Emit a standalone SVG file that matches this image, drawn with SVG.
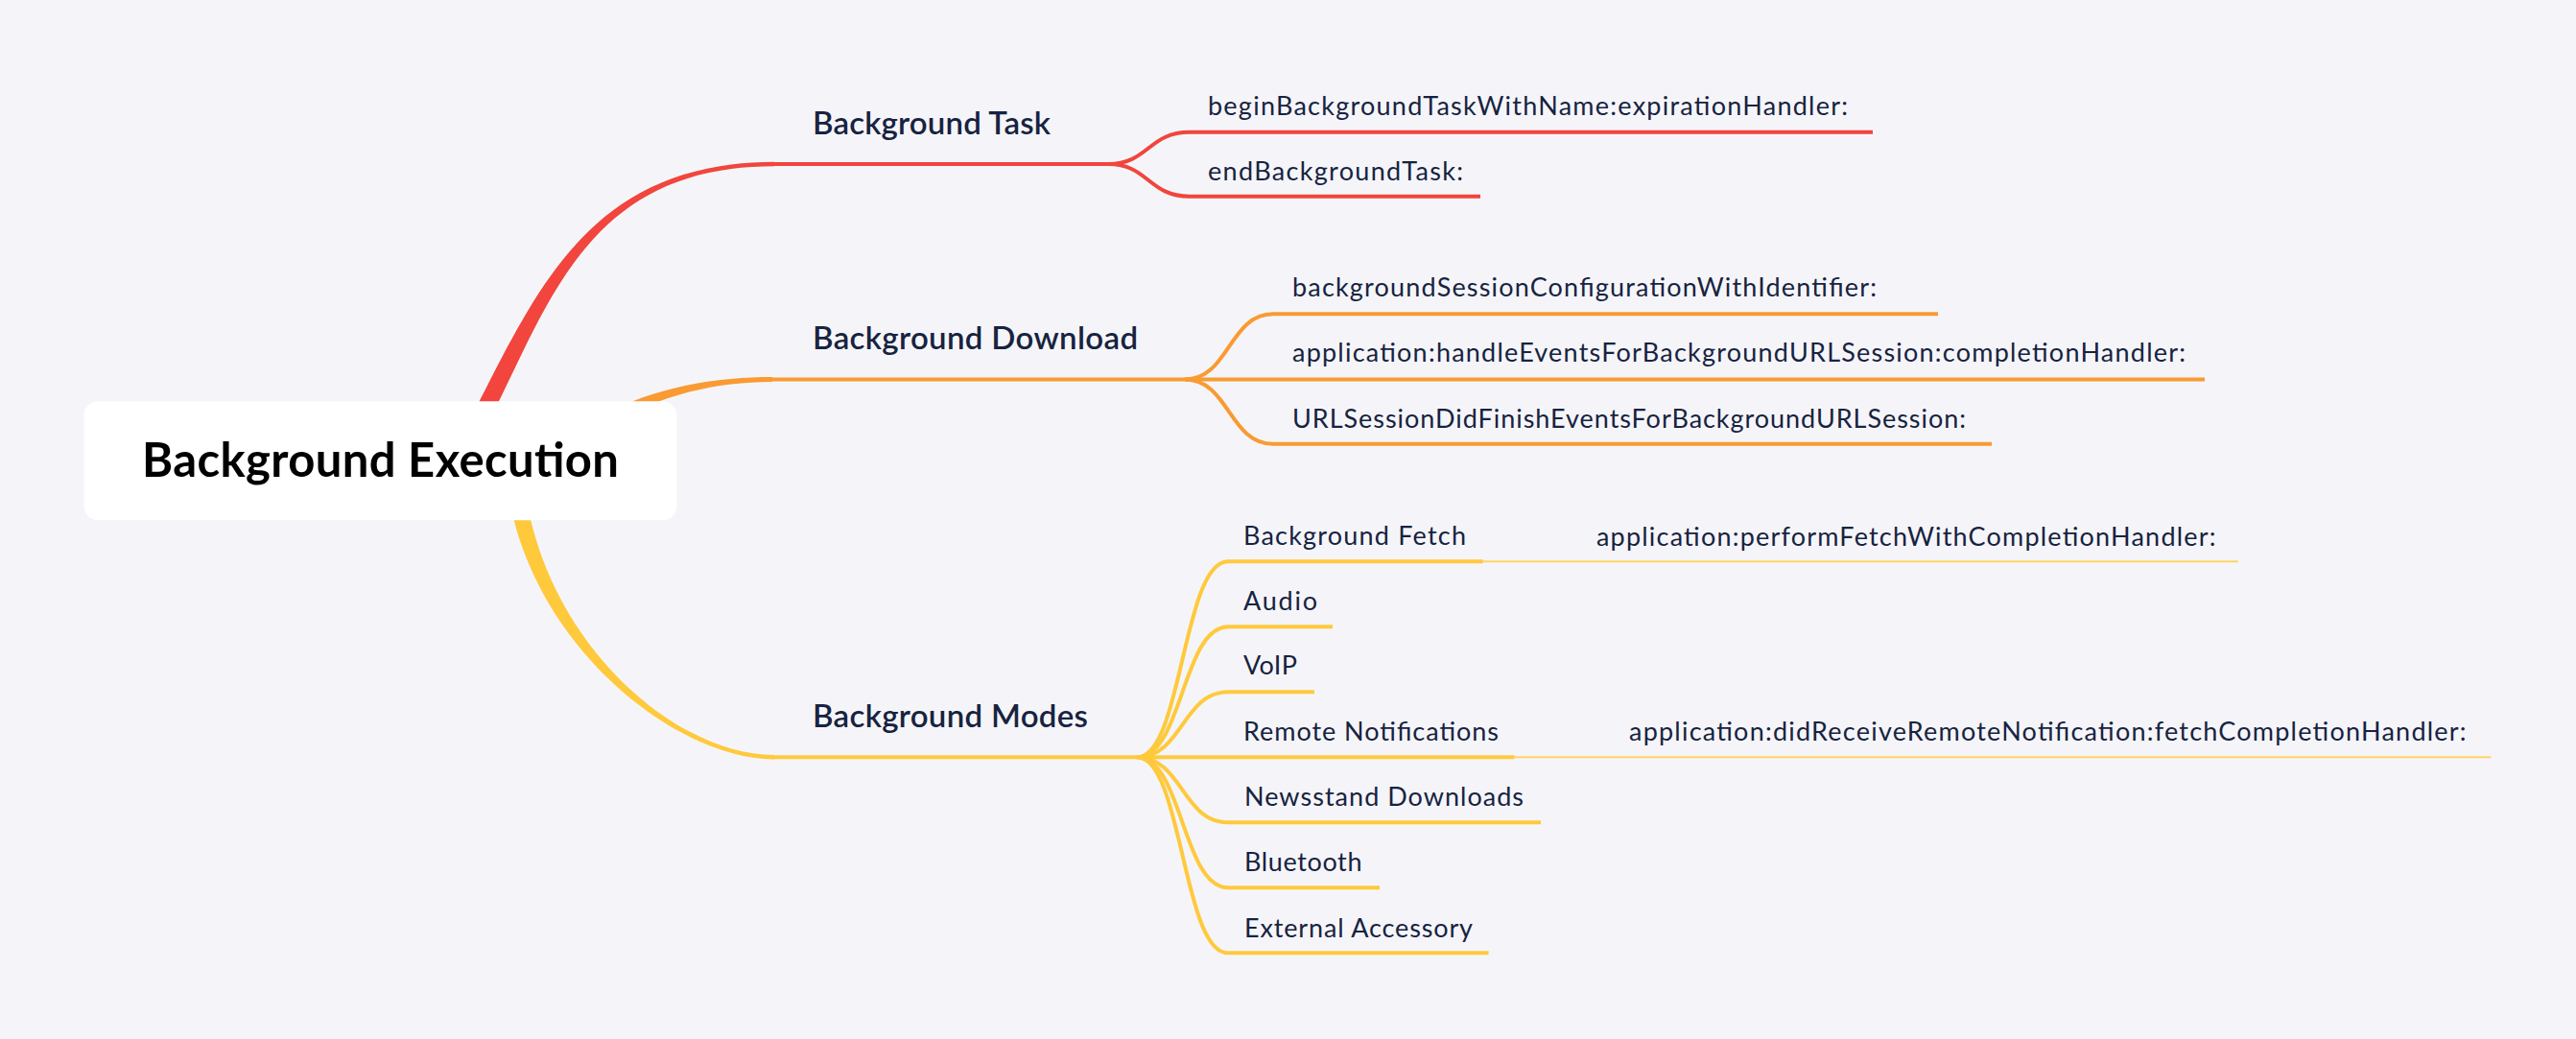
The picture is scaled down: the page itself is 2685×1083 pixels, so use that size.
<svg xmlns="http://www.w3.org/2000/svg" width="2685" height="1083" viewBox="0 0 2685 1083">
<style>
.bg{fill:#F5F5F9}
.t{font-family:Lato,"Noto Sans","Liberation Sans",sans-serif;fill:#172340}
.root{font-size:49px;font-weight:700;fill:#000000}
.br{font-size:33px;font-weight:600}
.ch{font-size:27px;font-weight:400}
.red{stroke:#F1453D;fill:none;stroke-width:4}
.org{stroke:#F99A33;fill:none;stroke-width:4}
.yel{stroke:#FFC93C;fill:none;stroke-width:4}
.thin{stroke:#FFD466;fill:none;stroke-width:2}
</style>
<rect class="bg" x="0" y="0" width="2685" height="1083"/>
<g id="connectors">
  <!-- root to branches (tapered) -->
  <path d="M496.3,464.6 C568.3,334.6 600,173.2 807,173.2 L807,168.8 C600,168.8 551.7,325.4 479.7,455.4 Z" fill="#F1453D"/>
  <path d="M604.4,465.5 C654.4,425.5 720,398 805,398 L805,393 C720,393 645.6,414.5 595.6,454.5 Z" fill="#F99A33"/>
  <path d="M526,480.5 C536,660.5 700,791.5 807,791.5 L807,787.1 C700,787.1 554,659.5 544,479.5 Z" fill="#FFC93C"/>
  <!-- Background Task -->
  <path class="red" d="M805,171 L1155,171"/>
  <path class="red" d="M1155,171 C1197,171 1197,137.7 1240,137.7 L1952,137.7"/>
  <path class="red" d="M1155,171 C1197,171 1197,204.7 1240,204.7 L1543,204.7"/>
  <!-- Background Download -->
  <path class="org" d="M803,395.5 L1235,395.5"/>
  <path class="org" d="M1235,395.5 C1281,395.5 1281,327.3 1327,327.3 L2020,327.3"/>
  <path class="org" d="M1235,395.5 L2298,395.5"/>
  <path class="org" d="M1235,395.5 C1281,395.5 1281,462.7 1327,462.7 L2076,462.7"/>
  <!-- Background Modes -->
  <path class="yel" d="M805,789.3 L1185,789.3"/>
  <path class="yel" d="M1185,789.3 C1232.5,789.3 1232.5,585.3 1280,585.3 L1545.7,585.3"/>
  <path class="thin" d="M1545.7,585.3 L2333,585.3"/>
  <path class="yel" d="M1185,789.3 C1232.5,789.3 1232.5,653.3 1280,653.3 L1389,653.3"/>
  <path class="yel" d="M1185,789.3 C1232.5,789.3 1232.5,721.3 1280,721.3 L1370,721.3"/>
  <path class="yel" d="M1185,789.3 L1578.6,789.3"/>
  <path class="thin" d="M1578.6,789.3 L2596.5,789.3"/>
  <path class="yel" d="M1185,789.3 C1232.5,789.3 1232.5,857.3 1280,857.3 L1606,857.3"/>
  <path class="yel" d="M1185,789.3 C1232.5,789.3 1232.5,925.3 1280,925.3 L1438,925.3"/>
  <path class="yel" d="M1185,789.3 C1232.5,789.3 1232.5,993.3 1280,993.3 L1551.6,993.3"/>
</g>
<g id="root">
  <rect x="87.5" y="418.3" width="618" height="124" rx="15" fill="#FFFFFF"/>
  <text class="t root" x="396.5" y="497" text-anchor="middle" textLength="497">Background Execution</text>
</g>
<g id="background-task">
  <text class="t br" x="847" y="140" textLength="248">Background Task</text>
</g>
<g id="begin-task">
  <text class="t ch" x="1259" y="120" textLength="667">beginBackgroundTaskWithName:expirationHandler:</text>
</g>
<g id="end-task">
  <text class="t ch" x="1259" y="188" textLength="266">endBackgroundTask:</text>
</g>
<g id="background-download">
  <text class="t br" x="847" y="364" textLength="339">Background Download</text>
</g>
<g id="session-config">
  <text class="t ch" x="1347" y="309" textLength="609">backgroundSessionConfigurationWithIdentifier:</text>
</g>
<g id="handle-events">
  <text class="t ch" x="1347" y="377" textLength="931">application:handleEventsForBackgroundURLSession:completionHandler:</text>
</g>
<g id="did-finish">
  <text class="t ch" x="1347" y="445.7" textLength="702">URLSessionDidFinishEventsForBackgroundURLSession:</text>
</g>
<g id="background-modes">
  <text class="t br" x="847" y="758" textLength="287">Background Modes</text>
</g>
<g id="background-fetch">
  <text class="t ch" x="1296" y="568" textLength="232">Background Fetch</text>
</g>
<g id="perform-fetch">
  <text class="t ch" x="1664" y="569" textLength="645.5">application:performFetchWithCompletionHandler:</text>
</g>
<g id="audio">
  <text class="t ch" x="1296" y="636" textLength="77">Audio</text>
</g>
<g id="voip">
  <text class="t ch" x="1296" y="703" textLength="56">VoIP</text>
</g>
<g id="remote-notifications">
  <text class="t ch" x="1296" y="771.7" textLength="266">Remote Notifications</text>
</g>
<g id="did-receive">
  <text class="t ch" x="1698" y="772" textLength="872.6">application:didReceiveRemoteNotification:fetchCompletionHandler:</text>
</g>
<g id="newsstand">
  <text class="t ch" x="1297" y="840" textLength="291">Newsstand Downloads</text>
</g>
<g id="bluetooth">
  <text class="t ch" x="1297" y="908.3" textLength="122.5">Bluetooth</text>
</g>
<g id="external-accessory">
  <text class="t ch" x="1297" y="976.7" textLength="238">External Accessory</text>
</g>
</svg>
